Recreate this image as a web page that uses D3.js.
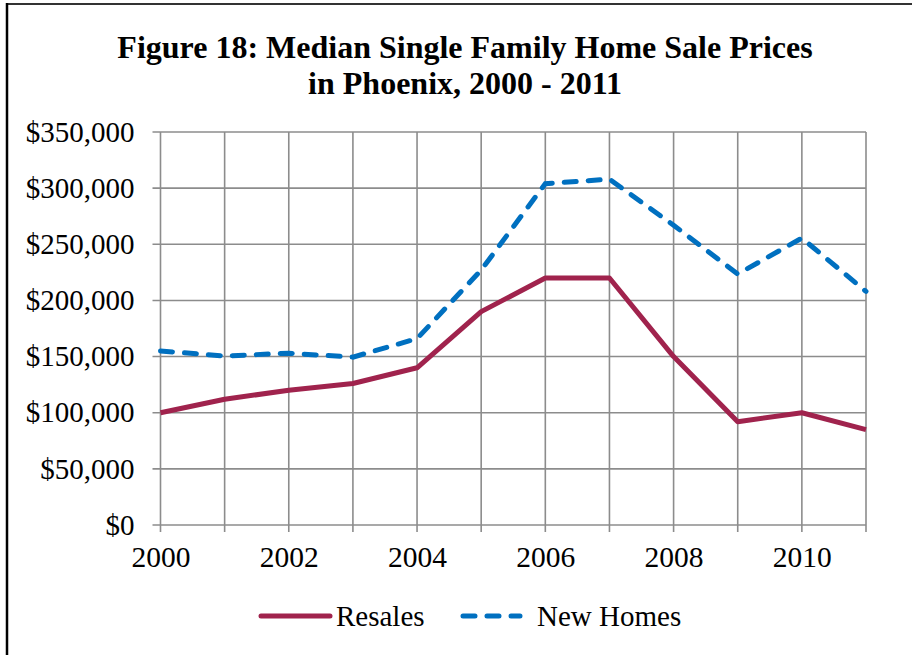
<!DOCTYPE html>
<html>
<head>
<meta charset="utf-8">
<script src="https://cdn.jsdelivr.net/npm/d3@7"></script>
<style>
  html, body { margin: 0; padding: 0; background: #fff; }
  svg { display: block; }
</style>
</head>
<body>
<div id="chart"></div>
<script>
// chart data
const years = [2000, 2001, 2002, 2003, 2004, 2005, 2006, 2007, 2008, 2009, 2010, 2011];
const resales = [100000, 112000, 120000, 126000, 140000, 190000, 220000, 220000, 150000, 92000, 100000, 85000];
const newHomes = [155000, 150500, 153000, 149500, 166000, 227000, 304000, 308000, 267000, 223500, 255500, 208000];
const yTicks = [0, 50000, 100000, 150000, 200000, 250000, 300000, 350000];
const xTicks = [2000, 2002, 2004, 2006, 2008, 2010];
const titleLines = ["Figure 18: Median Single Family Home Sale Prices", "in Phoenix, 2000 - 2011"];
const seriesNames = ["Resales", "New Homes"];

const WIDTH = 912, HEIGHT = 655;
const FONT = `"Liberation Serif", "Times New Roman", serif`;
const margin = {left: 160.5, right: 46, top: 132, bottom: 130};

const svg = d3.select(`#chart`).append(`svg`)
  .attr(`width`, WIDTH)
  .attr(`height`, HEIGHT);

// frame (only top and left edges visible in the original crop)
svg.append(`line`).attr(`x1`, 6).attr(`x2`, WIDTH).attr(`y1`, 4).attr(`y2`, 4)
  .attr(`stroke`, `#333`).attr(`stroke-width`, 2);
svg.append(`line`).attr(`x1`, 7).attr(`x2`, 7).attr(`y1`, 3).attr(`y2`, HEIGHT)
  .attr(`stroke`, `#000`).attr(`stroke-width`, 2.5);

// title
svg.append(`text`)
  .attr(`x`, 465).attr(`y`, 58)
  .attr(`text-anchor`, `middle`)
  .attr(`font-family`, FONT).attr(`font-weight`, `bold`).attr(`font-size`, 32)
  .selectAll(`tspan`).data(titleLines).join(`tspan`)
  .attr(`x`, 465)
  .attr(`dy`, (d, i) => i === 0 ? 0 : 36)
  .text(d => d);

const x = d3.scaleLinear().domain([2000, 2011]).range([margin.left, WIDTH - margin.right]);
const y = d3.scaleLinear().domain([0, 350000]).range([HEIGHT - margin.bottom, margin.top]);

const GRID = `#8c8c8c`;

// gridlines (every year vertical, every 50k horizontal)
const grid = svg.append(`g`).attr(`class`, `grid`);
grid.selectAll(`line.v`).data(years).join(`line`)
  .attr(`class`, `v`)
  .attr(`x1`, d => x(d)).attr(`x2`, d => x(d))
  .attr(`y1`, y(350000)).attr(`y2`, y(0) + 7)
  .attr(`stroke`, GRID).attr(`stroke-width`, 1.6);
grid.selectAll(`line.h`).data(yTicks).join(`line`)
  .attr(`class`, `h`)
  .attr(`x1`, x(2000) - 8).attr(`x2`, x(2011))
  .attr(`y1`, d => y(d)).attr(`y2`, d => y(d))
  .attr(`stroke`, GRID).attr(`stroke-width`, 1.6);

// y axis labels
const yAxis = svg.append(`g`)
  .attr(`transform`, `translate(${x(2000) - 8},0)`)
  .call(d3.axisLeft(y).tickValues(yTicks).tickSize(0).tickPadding(18)
    .tickFormat(d => `$` + d3.format(`,`)(d)));
yAxis.select(`.domain`).remove();
yAxis.selectAll(`text`).attr(`font-family`, FONT).attr(`font-size`, 29).attr(`fill`, `#000`);

// x axis labels
const xAxis = svg.append(`g`)
  .attr(`transform`, `translate(0,${y(0)})`)
  .call(d3.axisBottom(x).tickValues(xTicks).tickSize(0).tickPadding(21).tickFormat(d3.format(`d`)));
xAxis.select(`.domain`).remove();
xAxis.selectAll(`text`).attr(`font-family`, FONT).attr(`font-size`, 29.5).attr(`fill`, `#000`);

// series lines
const RED = `#a0234d`, BLUE = `#0070c0`;
const line = d3.line().x((d, i) => x(years[i])).y(d => y(d));

svg.append(`path`).datum(newHomes)
  .attr(`d`, line)
  .attr(`fill`, `none`).attr(`stroke`, BLUE).attr(`stroke-width`, 5)
  .attr(`stroke-dasharray`, `12,12`).attr(`stroke-linecap`, `round`);

svg.append(`path`).datum(resales)
  .attr(`d`, line)
  .attr(`fill`, `none`).attr(`stroke`, RED).attr(`stroke-width`, 5)
  .attr(`stroke-linejoin`, `round`);

// legend
const legend = svg.append(`g`).attr(`transform`, `translate(0,616)`);
const legendItems = [
  {name: seriesNames[0], color: RED, dash: null, x0: 261, x1: 330, tx: 336},
  {name: seriesNames[1], color: BLUE, dash: `12,12`, x0: 463, x1: 520, tx: 537},
];
legendItems.forEach(item => {
  legend.append(`line`)
    .attr(`x1`, item.x0).attr(`x2`, item.x1).attr(`y1`, 0).attr(`y2`, 0)
    .attr(`stroke`, item.color).attr(`stroke-width`, 5)
    .attr(`stroke-linecap`, `round`)
    .attr(`stroke-dasharray`, item.dash);
  legend.append(`text`)
    .attr(`x`, item.tx).attr(`y`, 10)
    .attr(`font-family`, FONT).attr(`font-size`, 29)
    .text(item.name);
});
</script>
</body>
</html>
